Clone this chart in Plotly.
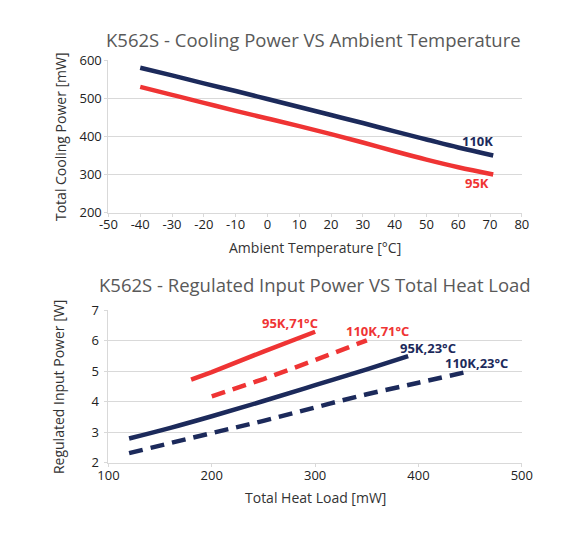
import plotly.graph_objects as go

# Cooling power vs ambient temperature
amb_temp = [-40, -30, -20, -10, 0, 10, 20, 30, 40, 50, 60, 71]
cp_110k = [580, 560, 539, 519, 498, 477, 456, 435, 413, 392, 371, 350]
cp_95k = [530, 509, 488, 467, 447, 427, 406, 384, 361, 339, 319, 300]
temp_ticks = [-50, -40, -30, -20, -10, 0, 10, 20, 30, 40, 50, 60, 70, 80]
temp_tick_labels = ["-50", "-40", "-30", "-20", "-10", "0", "10", "20", "30", "40", "50", "60", "70", "80"]

# Regulated input power vs total heat load
load_95k_71 = [180, 200, 250, 300]
pwr_95k_71 = [4.73, 4.98, 5.65, 6.3]
load_110k_71 = [200, 250, 300, 350]
pwr_110k_71 = [4.18, 4.75, 5.37, 6.02]
load_95k_23 = [120, 160, 200, 250, 300, 350, 390]
pwr_95k_23 = [2.8, 3.15, 3.53, 4.03, 4.55, 5.07, 5.5]
load_110k_23 = [120, 200, 250, 300, 350, 400, 445]
pwr_110k_23 = [2.32, 2.98, 3.38, 3.82, 4.25, 4.63, 4.97]

NAVY = "#1c2a5b"
RED = "#ef3434"
GRID = "#d9d9d9"
FONT = "Open Sans"

# the page body adds an 8px margin, so the figure is drawn 8px in from the corner
OFF = 8
W, H = 587 - 2 * OFF, 533 - 2 * OFF


def fx(px):
    return (px - OFF) / W


def fy(py):
    return 1 - (py - OFF) / H


fig = go.Figure()

fig.add_trace(go.Scatter(x=amb_temp, y=cp_110k, mode="lines", line=dict(color=NAVY, width=4.5, shape="spline"),
                         xaxis="x", yaxis="y"))
fig.add_trace(go.Scatter(x=amb_temp, y=cp_95k, mode="lines", line=dict(color=RED, width=4.5, shape="spline"),
                         xaxis="x", yaxis="y"))

fig.add_trace(go.Scatter(x=load_95k_71, y=pwr_95k_71, mode="lines", line=dict(color=RED, width=4.5),
                         xaxis="x2", yaxis="y2"))
fig.add_trace(go.Scatter(x=load_110k_71, y=pwr_110k_71, mode="lines",
                         line=dict(color=RED, width=4.5, dash="14px,8px"), xaxis="x2", yaxis="y2"))
fig.add_trace(go.Scatter(x=load_95k_23, y=pwr_95k_23, mode="lines", line=dict(color=NAVY, width=4.5, shape="spline"),
                         xaxis="x2", yaxis="y2"))
fig.add_trace(go.Scatter(x=load_110k_23, y=pwr_110k_23, mode="lines",
                         line=dict(color=NAVY, width=4.5, dash="14px,8px", shape="spline"), xaxis="x2", yaxis="y2"))

axis_common = dict(showgrid=True, gridcolor=GRID, gridwidth=1, showline=True, linecolor=GRID, linewidth=1,
                   ticks="outside", ticklen=3, tickcolor=GRID, zeroline=False,
                   tickfont=dict(family=FONT, size=13, color="#222222"))

fig.update_layout(
    width=W, height=H,
    margin=dict(l=0, r=0, t=0, b=0),
    paper_bgcolor="white", plot_bgcolor="white",
    showlegend=False,
    xaxis=dict(axis_common, domain=[fx(101), fx(531)], range=[-50, 80], tickmode="array",
               tickvals=temp_ticks, ticktext=temp_tick_labels, anchor="y", showgrid=False,
               ticklabelstandoff=-3),
    yaxis=dict(axis_common, domain=[fy(210.7), fy(52.7)], range=[200, 600], dtick=100, anchor="x"),
    xaxis2=dict(axis_common, domain=[fx(101), fx(531)], range=[100, 500], dtick=100, anchor="y2", showgrid=False,
                ticklabelstandoff=-3),
    yaxis2=dict(axis_common, domain=[fy(470), fy(312)], range=[2, 7], dtick=1, anchor="x2",
                ticklabelstandoff=3),
)


def paper_text(text, px, py, size, color, angle=0):
    fig.add_annotation(text=text, xref="paper", yref="paper", x=fx(px), y=fy(py),
                       xanchor="center", yanchor="middle", showarrow=False, textangle=angle,
                       font=dict(family=FONT, size=size, color=color))


# chart titles
paper_text("K562S - Cooling Power VS Ambient Temperature", 314, 31, 18.5, "#595959")
paper_text("K562S - Regulated Input Power VS Total Heat Load", 316, 285, 18.5, "#595959")

# axis titles
paper_text("Ambient Temperature [°C]", 316, 247, 14, "#333333")
paper_text("Total Cooling Power [mW]", 51, 132, 14, "#333333", -90)
paper_text("Total Heat Load [mW]", 316, 506, 14, "#333333")
paper_text("Regulated Input Power [W]", 49, 391, 14, "#333333", -90)


def label(text, x, y, color, xr, yr):
    fig.add_annotation(text="<b>" + text + "</b>", x=x, y=y, xref=xr, yref=yr, showarrow=False,
                       xanchor="center", yanchor="middle", font=dict(family=FONT, size=13, color=color))


label("110K", 66, 387, NAVY, "x", "y")
label("95K", 66, 278, RED, "x", "y")
label("95K,71°C", 276, 6.6, RED, "x2", "y2")
label("110K,71°C", 360, 6.31, RED, "x2", "y2")
label("95K,23°C", 409, 5.76, NAVY, "x2", "y2")
label("110K,23°C", 456, 5.29, NAVY, "x2", "y2")

fig.write_html("out.html")
